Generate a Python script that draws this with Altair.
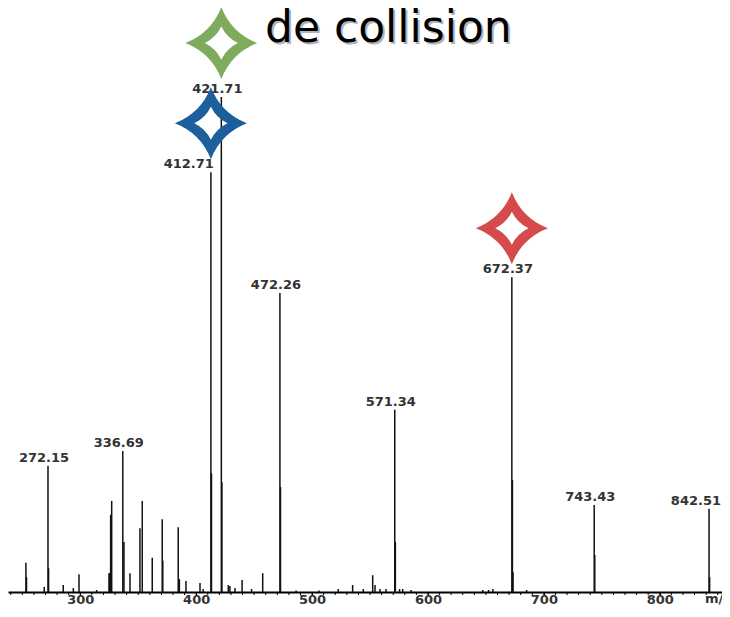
import altair as alt
import pandas as pd

# ---- data (m/z, relative intensity %) ----
peak_mz = [272.15, 336.69, 412.71, 421.71, 472.26, 571.34, 672.37, 743.43, 842.51]
peak_int = [25.5, 28.5, 84.8, 100.0, 60.4, 36.8, 63.6, 17.6, 16.8]
peak_label = ["272.15", "336.69", "412.71", "421.71", "472.26", "571.34", "672.37", "743.43", "842.51"]

iso_mz = [272.65, 337.7, 413.2, 422.2, 472.76, 571.84, 672.87, 673.4, 743.93, 843.0]
iso_int = [4.8, 10.1, 24.0, 22.2, 21.2, 10.1, 22.6, 4.0, 7.5, 3.0]

minor_mz = [253.1, 253.6, 268.9, 285.3, 294.0, 298.9, 314.1, 324.8, 325.3, 326.2,
            327.1, 342.9, 351.5, 353.5, 362.1, 370.7, 371.2, 384.5, 385.5, 391.2,
            403.3, 406.0, 427.7, 429.1, 433.5, 439.6, 447.8, 457.4, 486.2, 506.0,
            522.6, 535.0, 544.2, 552.3, 554.3, 558.6, 563.8, 575.5, 578.2, 585.4,
            647.3, 652.3, 656.0, 685.1]
minor_int = [5.9, 3.0, 1.0, 1.4, 0.8, 3.6, 0.4, 3.8, 3.8, 15.6,
             18.4, 3.8, 12.9, 18.4, 6.9, 14.7, 6.3, 13.1, 2.6, 2.2,
             1.8, 0.6, 1.4, 1.2, 0.8, 2.4, 0.6, 3.8, 0.3, 0.3,
             0.6, 1.4, 0.6, 3.4, 1.4, 0.6, 0.6, 0.6, 0.6, 0.4,
             0.4, 0.4, 0.6, 0.4]

major_ticks = [300, 400, 500, 600, 700, 800]
minor_ticks = list(range(240, 851, 10))

star_mz = [421.71, 412.71, 672.37]
star_color = ["#7fab5c", "#1d5e9d", "#d54a4a"]

title_text = "de collision"
axis_unit = "m/z"

# ---- frames ----
peaks = pd.DataFrame({"mz": peak_mz + iso_mz + minor_mz,
                      "intensity": peak_int + iso_int + minor_int})
labels = pd.DataFrame({"mz": peak_mz, "intensity": peak_int, "label": peak_label})
star_int = [peak_int[peak_mz.index(m)] for m in star_mz]
stars = pd.DataFrame({"mz": star_mz, "intensity": star_int, "color": star_color})
ticks = pd.DataFrame({"v": minor_ticks, "zero": [0] * len(minor_ticks)})

STAR = ("M0,-1 Q0.28,-0.28 1,0 Q0.28,0.28 0,1 Q-0.28,0.28 -1,0 Q-0.28,-0.28 0,-1 Z "
        "M0,-0.46 Q-0.15,-0.15 -0.46,0 Q-0.15,0.15 0,0.46 Q0.15,0.15 0.46,0 Q0.15,-0.15 0,-0.46 Z")

xscale = alt.Scale(domain=[237.64, 853.69], nice=False, zero=False)
yscale = alt.Scale(domain=[0, 118], nice=False)

x_axis = alt.Axis(values=major_ticks, title=None, grid=False,
                  domainColor="#000", domainWidth=2,
                  tickColor="#000", tickSize=3, tickWidth=1,
                  labelFont="DejaVu Sans", labelFontSize=13, labelFontWeight="bold",
                  labelColor="#333", labelPadding=8, labelBaseline="alphabetic",
                  labelFlush=False)

rules = alt.Chart(peaks).mark_rule(color="#111", strokeWidth=1.5).encode(
    x=alt.X("mz:Q", scale=xscale, axis=x_axis),
    y=alt.Y("intensity:Q", scale=yscale, axis=None),
    y2=alt.datum(0),
)

minor = alt.Chart(ticks).mark_rule(color="#000", strokeWidth=1, y2Offset=3).encode(
    x=alt.X("v:Q", scale=xscale),
    y=alt.Y("zero:Q", scale=yscale),
    y2="zero:Q",
)

star_mark = dict(shape=STAR, size=5184, filled=True, opacity=1, strokeWidth=0)
green_star = alt.Chart(stars).transform_filter(alt.datum.mz == 421.71).mark_point(
    yOffset=-54, **star_mark
).encode(x=alt.X("mz:Q", scale=xscale), y=alt.Y("intensity:Q", scale=yscale),
         color=alt.Color("color:N", scale=None))

other_stars = alt.Chart(stars).transform_filter(alt.datum.mz != 421.71).mark_point(
    yOffset=-49, **star_mark
).encode(x=alt.X("mz:Q", scale=xscale), y=alt.Y("intensity:Q", scale=yscale),
         color=alt.Color("color:N", scale=None))

lab_style = dict(font="DejaVu Sans", fontSize=13, fontWeight="bold", color="#333",
                 baseline="alphabetic", dy=-4)
lab_enc = dict(x=alt.X("mz:Q", scale=xscale), y=alt.Y("intensity:Q", scale=yscale), text="label:N")
labels_c = alt.Chart(labels).transform_filter(
    (alt.datum.mz != 412.71) & (alt.datum.mz != 842.51)
).mark_text(align="center", dx=-4, **lab_style).encode(**lab_enc)
labels_r = alt.Chart(labels).transform_filter(alt.datum.mz == 412.71).mark_text(
    align="right", dx=3, **lab_style).encode(**lab_enc)
labels_edge = alt.Chart(labels).transform_filter(alt.datum.mz == 842.51).mark_text(
    align="right", dx=12, **lab_style).encode(**lab_enc)

tdf = pd.DataFrame({"t": [title_text]})
title_shadow = alt.Chart(tdf).mark_text(
    font="DejaVu Sans", fontSize=44, align="left", baseline="alphabetic", color="#b4b4b4"
).encode(x=alt.value(259), y=alt.value(36), text="t:N")
title = alt.Chart(tdf).mark_text(
    font="DejaVu Sans", fontSize=44, align="left", baseline="alphabetic", color="#000"
).encode(x=alt.value(257), y=alt.value(34), text="t:N")

unit = alt.Chart(pd.DataFrame({"u": [axis_unit]})).mark_text(
    font="DejaVu Sans", fontSize=13, fontWeight="bold", color="#333", align="left",
    baseline="alphabetic"
).encode(x=alt.value(697), y=alt.value(595), text="u:N")

chart = alt.layer(rules, minor, green_star, labels_c, labels_r, labels_edge, other_stars,
                  title_shadow, title, unit).properties(
    width=714, height=584,
    autosize=alt.AutoSizeParams(type="none"),
    padding={"left": 0, "top": 0, "right": 0, "bottom": 13},
).configure_view(stroke=None)

chart.save("out.html", embed_options={"renderer": "svg", "actions": False})
